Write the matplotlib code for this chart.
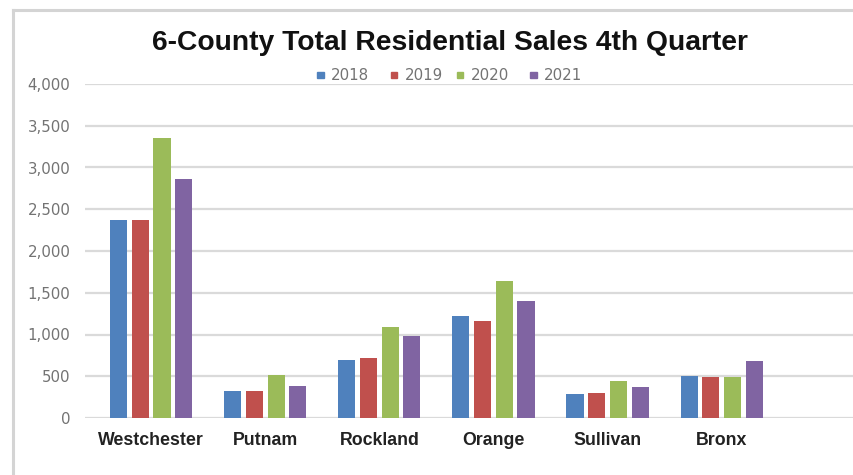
import matplotlib
matplotlib.use("Agg")
import matplotlib.pyplot as plt
from matplotlib.patches import Rectangle
import numpy as np

counties = ["Westchester", "Putnam", "Rockland", "Orange", "Sullivan", "Bronx"]
years = ["2018", "2019", "2020", "2021"]
sales_2018 = [2370, 323, 691, 1222, 284, 507]
sales_2019 = [2370, 325, 715, 1165, 296, 495]
sales_2020 = [3357, 511, 1093, 1641, 443, 495]
sales_2021 = [2858, 387, 982, 1401, 371, 683]
series = [sales_2018, sales_2019, sales_2020, sales_2021]
colors = ["#4F81BD", "#C0504D", "#9BBB59", "#8064A2"]
yticks = [0, 500, 1000, 1500, 2000, 2500, 3000, 3500, 4000]

W, H = 854, 475
fig = plt.figure(figsize=(W / 100, H / 100), dpi=100)
fig.patch.set_facecolor("white")

# chart border (top and left visible)
fig.add_artist(plt.Line2D([13 / W, 13 / W], [0, 1 - 10 / H], color="#d4d4d4", lw=2.2))
fig.add_artist(plt.Line2D([13 / W, 1], [1 - 10 / H, 1 - 10 / H], color="#d4d4d4", lw=2.2))

ax_left, ax_right = 85, 854
ax_top, ax_bot = 84, 418
ax = fig.add_axes([ax_left / W, 1 - ax_bot / H, (ax_right - ax_left) / W, (ax_bot - ax_top) / H])

x = np.arange(len(counties))
step = 0.19
width = 0.15
for i, (vals, c) in enumerate(zip(series, colors)):
    ax.bar(x + (i - 1.5) * step, vals, width=width, color=c, zorder=3)

ax.set_ylim(0, 4000)
ax.set_xlim(-0.58, 6.16)
ax.set_yticks(yticks)
ax.set_yticklabels([f"{v:,}" for v in yticks], fontsize=10.8, color="#737373",
                   fontfamily="DejaVu Sans")
ax.set_xticks(x)
ax.set_xticklabels(counties, fontsize=12.8, fontweight="bold", color="#222222",
                   fontfamily="Liberation Sans")
ax.tick_params(axis="y", length=0, pad=10.5)
ax.tick_params(axis="x", length=0, pad=10)
ax.grid(axis="y", color="#dadada", lw=1.6, zorder=0)
for s in ax.spines.values():
    s.set_visible(False)
ax.set_facecolor("white")

fig.text(450 / W, 1 - 43 / H, "6-County Total Residential Sales 4th Quarter",
         ha="center", va="center", fontsize=20.3, fontweight="bold",
         fontfamily="Liberation Sans", color="#111111")

# legend
leg_x = [317, 391, 457, 530]
for lx, yr, c in zip(leg_x, years, colors):
    fig.add_artist(Rectangle((lx / W, 1 - 78.5 / H), 6.5 / W, 6.5 / H, color=c,
                             transform=fig.transFigure))
    fig.text((lx + 14) / W, 1 - 75 / H, yr, ha="left", va="center", fontsize=10.8,
             color="#737373", fontfamily="DejaVu Sans")

fig.savefig("out.png", dpi=100)
